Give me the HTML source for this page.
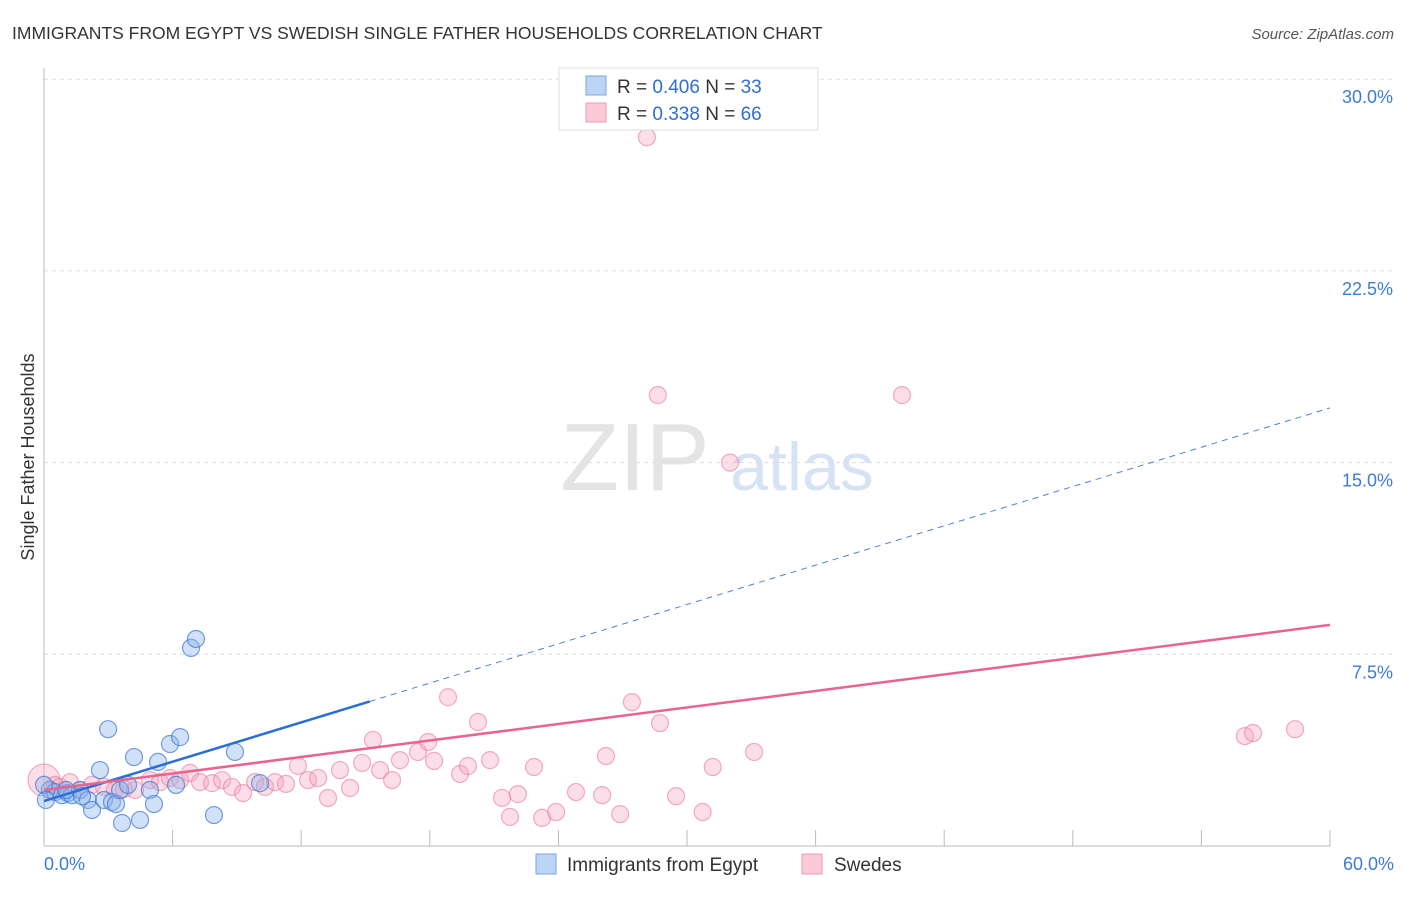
<!DOCTYPE html>
<html><head><meta charset="utf-8"><style>
body{margin:0;background:#fff;font-family:"Liberation Sans",sans-serif;}
svg text{font-family:"Liberation Sans",sans-serif;}
</style></head><body>
<svg id="chart" width="1406" height="892" viewBox="0 0 1406 892" xmlns="http://www.w3.org/2000/svg">
<text x="12" y="39" font-size="17.5" fill="#333">IMMIGRANTS FROM EGYPT VS SWEDISH SINGLE FATHER HOUSEHOLDS CORRELATION CHART</text>
<text x="1394" y="39" font-size="15" fill="#555" text-anchor="end" font-style="italic">Source: ZipAtlas.com</text>
<text transform="translate(34,457) rotate(-90)" font-size="18" fill="#333" text-anchor="middle">Single Father Households</text>
<g>
<text x="635" y="490" font-size="96" fill="#e4e4e4" text-anchor="middle" font-family="Liberation Serif">ZIP</text>
<text x="802" y="490" font-size="68" fill="#d6e3f5" text-anchor="middle">atlas</text>
</g>
<g id="grid"></g>
<g id="axes"></g>
<g id="points"></g>
<g id="lines"></g>
<g>
<rect x="559" y="68" width="259" height="62" fill="#fff" stroke="#ddd"/>
<rect x="586" y="76" width="20" height="19" fill="#bcd5f5" stroke="#7aa7e0"/>
<rect x="586" y="103" width="20" height="19" fill="#fbcad8" stroke="#ef9bb4"/>
<text x="617" y="93" font-size="19" fill="#333">R = <tspan fill="#2f6fd1">0.406</tspan>   N = <tspan fill="#2f6fd1">33</tspan></text>
<text x="617" y="120" font-size="19" fill="#333">R =  <tspan fill="#2f6fd1">0.338</tspan>   N = <tspan fill="#2f6fd1">66</tspan></text>
</g>
<g>
<rect x="536" y="854" width="20" height="20" fill="#bcd5f5" stroke="#7aa7e0"/>
<text x="567" y="871" font-size="19" fill="#333">Immigrants from Egypt</text>
<rect x="802" y="854" width="20" height="20" fill="#fbcad8" stroke="#ef9bb4"/>
<text x="834" y="871" font-size="19" fill="#333">Swedes</text>
</g>
</svg>
<script>
const xTickVals=[0,6,12,18,24,30,36,42,48,54,60];
const yTickVals=[7.5,15,22.5,30];
const yTickLabels=["7.5%","15.0%","22.5%","30.0%"];
const xEndLabels=["0.0%","60.0%"];
const egyptX=[0.27,0.51,0.84,1.12,1.31,1.68,2.05,2.24,2.61,2.8,2.99,3.17,3.36,3.55,3.64,3.92,4.2,4.48,4.94,5.13,5.32,5.88,6.16,6.35,6.86,7.09,7.93,8.91,10.08,0,1.03,1.77,0.09];
const egyptY=[2.19,2.11,1.99,2.07,1.99,2.19,1.8,1.41,2.97,1.8,4.57,1.72,1.64,2.19,0.9,2.39,3.48,1.02,2.19,1.64,3.29,3.99,2.39,4.26,7.75,8.1,1.21,3.68,2.46,2.39,2.19,1.95,1.8];
const swedesX=[0,0.51,0.75,1.21,1.68,2.24,2.8,3.31,3.73,4.25,4.95,5.41,5.88,6.35,6.81,7.28,7.84,8.31,8.77,9.29,9.85,10.31,10.78,11.29,11.85,12.32,12.79,13.25,13.81,14.28,14.84,15.35,15.68,16.24,16.61,17.45,17.92,18.2,18.85,19.41,19.78,20.25,20.81,21.37,21.74,22.11,22.86,23.24,23.89,24.82,26.04,26.22,26.88,27.43,28.13,28.64,28.74,29.49,30.73,31.2,32.01,33.13,40.03,56.03,56.41,58.37];
const swedesY=[2.58,2.39,2.31,2.5,2.19,2.39,2.31,2.19,2.23,2.19,2.58,2.5,2.66,2.58,2.86,2.5,2.46,2.58,2.31,2.07,2.5,2.31,2.5,2.43,3.13,2.58,2.66,1.88,2.97,2.27,3.25,4.15,2.97,2.58,3.36,3.68,4.07,3.33,5.82,2.82,3.13,4.85,3.36,1.88,1.14,2.03,3.09,1.1,1.33,2.11,1.99,3.52,1.25,5.63,27.73,17.64,4.81,1.95,1.33,3.09,15.0,3.68,17.64,4.3,4.42,4.57];
const egyptTrend=[1.76,17.14];
const swedesTrend=[2.19,8.65];
const NS="http://www.w3.org/2000/svg";
const X=v=>44+v/60*1286;
const Y=v=>846-v/7.5*191.7;
function mk(tag,attrs,parent){const e=document.createElementNS(NS,tag);for(const k in attrs)e.setAttribute(k,attrs[k]);parent.appendChild(e);return e;}
const grid=document.getElementById('grid'),axes=document.getElementById('axes'),pts=document.getElementById('points'),lines=document.getElementById('lines');
yTickVals.forEach((v,i)=>{
 const g=mk('line',{x1:44,x2:1394,y1:Y(v),y2:Y(v),stroke:'#ddd','stroke-dasharray':'4,4'},grid);
 
 
 const t=mk('text',{x:1393,y:Y(v)+24,'font-size':18,fill:'#3d7bd6','text-anchor':'end'},axes);
 t.textContent=yTickLabels[i];
 
 
});
const la=mk('line',{x1:44,x2:44,y1:68,y2:846,stroke:'#bbb'},axes);


const ba=mk('line',{x1:44,x2:1330,y1:846,y2:846,stroke:'#bbb'},axes);


xTickVals.forEach(v=>{
 const t=mk('line',{x1:X(v),x2:X(v),y1:830,y2:846,stroke:'#bbb'},axes);
 
 
});
[[0,'start',44],[60,'end',1394]].forEach((d,i)=>{
 const t=mk('text',{x:d[2],y:870,'font-size':18,fill:'#3d7bd6','text-anchor':d[1]},axes);
 t.textContent=xEndLabels[i];
 
 
});
swedesX.forEach((x,i)=>{
 const c=mk('circle',{cx:X(x),cy:Y(swedesY[i]),r:i===0?16:8.5,fill:'rgba(246,160,188,0.35)',stroke:'rgba(234,120,156,0.6)','stroke-width':1.2},pts);
 
 
});
egyptX.forEach((x,i)=>{
 const c=mk('circle',{cx:X(x),cy:Y(egyptY[i]),r:8.5,fill:'rgba(140,180,235,0.4)',stroke:'rgba(60,120,210,0.7)','stroke-width':1.2},pts);
 
 
});
const bAt=x=>egyptTrend[0]+(egyptTrend[1]-egyptTrend[0])*x/60;
const l1=mk('line',{x1:X(0),y1:Y(bAt(0)),x2:X(15.2),y2:Y(bAt(15.2)),stroke:'#2a6fd6','stroke-width':2.5},lines);


const l2=mk('line',{x1:X(15.2),y1:Y(bAt(15.2)),x2:X(60),y2:Y(bAt(60)),stroke:'#4a83d8','stroke-width':1,'stroke-dasharray':'6,5'},lines);


const l3=mk('line',{x1:X(0),y1:Y(swedesTrend[0]),x2:X(60),y2:Y(swedesTrend[1]),stroke:'#e8648f','stroke-width':2.5},lines);


</script>
</body></html>
